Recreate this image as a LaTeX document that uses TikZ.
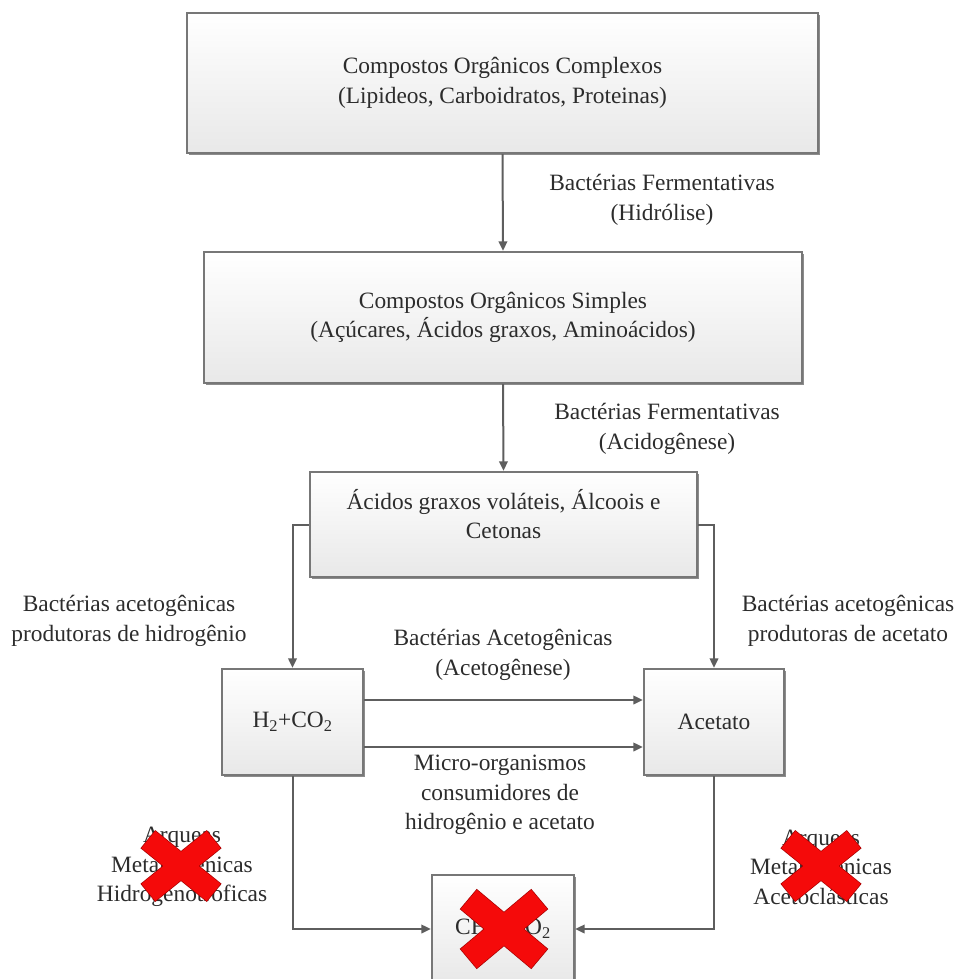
\documentclass[tikz,border=0pt]{standalone}
\usepackage{fontspec}
\setmainfont{Liberation Serif}
\usetikzlibrary{arrows.meta,calc,shadows}

\definecolor{txtgray}{HTML}{2C2C2C}
\definecolor{edgegray}{HTML}{777777}
\definecolor{linegray}{HTML}{5E5E5E}
\definecolor{crossred}{HTML}{F50A0A}

\tikzset{
  stagebox/.style={draw=edgegray, line width=2.3pt, rectangle,
    top color=white, bottom color=black!9,
    drop shadow={shadow xshift=1.6pt, shadow yshift=-1.6pt, fill=black!45, opacity=1},
    align=center, text=txtgray, inner sep=0pt},
  note/.style={align=center, text=txtgray, inner sep=0pt},
  flow/.style={draw=linegray, line width=2pt,
    -{Triangle[length=9.5pt,width=8.5pt]}},
  crossarm/.style={line width=#1, line cap=butt},
}

\begin{document}
\begin{tikzpicture}[x=1pt, y=-1pt, font=\fontsize{23.4}{29.5}\selectfont]
\useasboundingbox (0,0) rectangle (957,979);

% stage boxes
\node[stagebox, minimum width=631, minimum height=140] (complexos) at (502.5,83)
  {Compostos Orgânicos Complexos\\(Lipideos, Carboidratos, Proteinas)};
\node[stagebox, minimum width=598, minimum height=131] (simples) at (503,317.5)
  {Compostos Orgânicos Simples\\(Açúcares, Ácidos graxos, Aminoácidos)};
\node[stagebox, minimum width=387, minimum height=105] (acidos) at (503.5,524.5) {};
\node[note] (acidostxt) at (503.5,514) {Ácidos graxos voláteis, Álcoois e\\Cetonas};
\node[stagebox, minimum width=141, minimum height=106] (hidro) at (292.5,722)
  {H\textsubscript{2}+CO\textsubscript{2}};
\node[stagebox, minimum width=140, minimum height=106] (acetato) at (714,722) {Acetato};
\node[stagebox, minimum width=142, minimum height=108] (metano) at (503,929)
  {CH\textsubscript{4}+CO\textsubscript{2}};

% connectors
\draw[flow] (complexos.south) -- (simples.north);
\draw[flow] (simples.south) -- (acidos.north);
\draw[flow] (acidos.west) -| (hidro.north);
\draw[flow] (acidos.east) -| (acetato.north);
\coordinate (h2a) at ($(hidro.east)+(0,-22)$);
\coordinate (h2b) at ($(hidro.east)+(0,25)$);
\draw[flow] (h2a) -- (h2a -| acetato.west);
\draw[flow] (h2b) -- (h2b -| acetato.west);
\draw[flow] (hidro.south) |- (metano.west);
\draw[flow] (acetato.south) |- (metano.east);

% connector labels
\node[note] (hidrolise) at (662,200) {Bactérias Fermentativas\\(Hidrólise)};
\node[note] (acidogenese) at (667,429) {Bactérias Fermentativas\\(Acidogênese)};
\node[note] (prodhidro) at (129,621) {Bactérias acetogênicas\\produtoras de hidrogênio};
\node[note] (prodacet) at (848,621) {Bactérias acetogênicas\\produtoras de acetato};
\node[note] (acetogenese) at (503,655) {Bactérias Acetogênicas\\(Acetogênese)};
\node[note] (consumidores) at (500,795) {Micro-organismos\\consumidores de\\hidrogênio e acetato};
\node[note] (hidrotrof) at (182,867) {Arqueas\\Metanogênicas\\Hidrogenotróficas};
\node[note] (acetoclas) at (821,867) {Arqueas\\Metanogênicas\\Acetoclásticas};

% red crosses over the methanogenic stage
\foreach \cx/\cy/\len/\wd/\ang in {181/866/42/22/39, 821/866/42/22/39, 504/929/46/25/40}{
  \draw[crossarm=\wd+1.4, red!65!black]
    ($(\cx,\cy)+(\ang:\len+0.7)$) -- ($(\cx,\cy)+(180+\ang:\len+0.7)$);
  \draw[crossarm=\wd+1.4, red!65!black]
    ($(\cx,\cy)+(-\ang:\len+0.7)$) -- ($(\cx,\cy)+(180-\ang:\len+0.7)$);
  \draw[crossarm=\wd, crossred]
    ($(\cx,\cy)+(\ang:\len)$) -- ($(\cx,\cy)+(180+\ang:\len)$);
  \draw[crossarm=\wd, crossred]
    ($(\cx,\cy)+(-\ang:\len)$) -- ($(\cx,\cy)+(180-\ang:\len)$);
}
\end{tikzpicture}
\end{document}
